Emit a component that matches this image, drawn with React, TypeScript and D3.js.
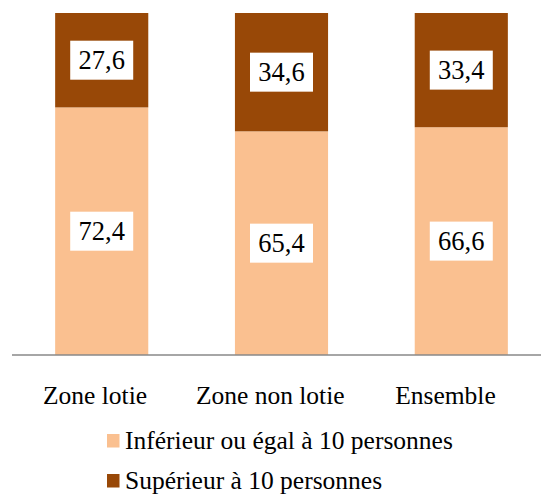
import React from 'react';
import * as d3 from 'd3';

const categories = ['Zone lotie', 'Zone non lotie', 'Ensemble'];
const lowValues = [72.4, 65.4, 66.6];
const highValues = [27.6, 34.6, 33.4];
const seriesNames = ['Inférieur ou égal à 10 personnes', 'Supérieur à 10 personnes'];
const seriesColors = ['#FAC090', '#984807'];

const width = 541;
const height = 497;
const font = 'Liberation Serif';

const fmt = (v: number) => v.toFixed(1).replace('.', ',');

export default function App() {
  const x = d3.scaleBand<string>().domain(categories).range([12, 551]).paddingInner(0.482).paddingOuter(0.24);
  const labelX = d3.scalePoint<string>().domain(categories).range([95, 445.5]);
  const y = d3.scaleLinear().domain([0, 100]).range([355, 13]);

  const rows = categories.map((c, i) => ({ cat: c, low: lowValues[i], high: highValues[i] }));
  const stack = d3.stack<any>().keys(['low', 'high'])(rows);

  return (
    <svg width={width} height={height} style={{ position: 'absolute', left: 0, top: 0 }}>
      <rect width={width} height={height} fill="#fff" />
      {stack.map((layer, li) => (
        <g key={li}>
          {layer.map((d, i) => {
            const bx = x(categories[i])!;
            const y0 = y(d[0]);
            const y1 = y(d[1]);
            const cx = bx + x.bandwidth() / 2;
            const cy = (y0 + y1) / 2;
            const v = d[1] - d[0];
            return (
              <g key={i}>
                <rect x={bx} y={y1} width={x.bandwidth()} height={y0 - y1} fill={seriesColors[li]} />
                <rect x={cx - 31.5} y={cy - 19.5} width={63} height={39} fill="#fff" />
                <text x={cx} y={cy + 9} textAnchor="middle" fontFamily={font} fontSize={26.5} fill="#000">
                  {fmt(v)}
                </text>
              </g>
            );
          })}
        </g>
      ))}
      <line x1={12} x2={541} y1={y(0)} y2={y(0)} stroke="#888" strokeWidth={1.5} />
      {categories.map((c) => (
        <text key={c} x={labelX(c)} y={404} textAnchor="middle" fontFamily={font} fontSize={25.5} fill="#000">
          {c}
        </text>
      ))}
      {seriesNames.map((s, i) => (
        <g key={s} transform={`translate(107, ${434 + i * 40})`}>
          <rect width={12.5} height={13.5} fill={seriesColors[i]} />
          <text x={18} y={15} fontFamily={font} fontSize={25.5} fill="#000">
            {s}
          </text>
        </g>
      ))}
    </svg>
  );
}
